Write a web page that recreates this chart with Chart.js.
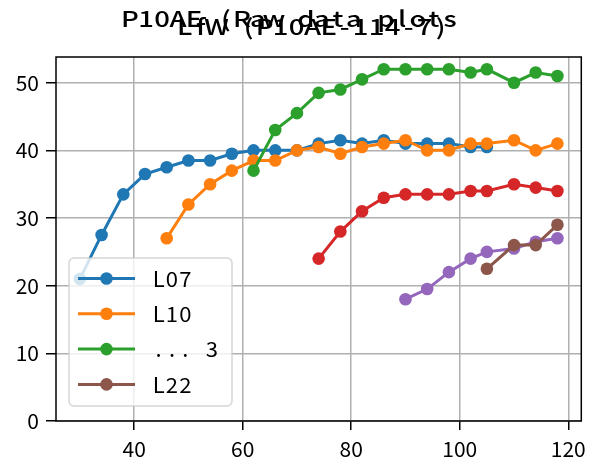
<!DOCTYPE html>
<html>
<head>
<meta charset="utf-8">
<script src="https://cdn.jsdelivr.net/npm/chart.js@4/dist/chart.umd.min.js"></script>
<style>
  body { margin: 0; background: #fff; }
  #wrap { width: 592px; height: 464px; }
</style>
</head>
<body>
<div id="wrap"><canvas id="chart" width="592" height="464"></canvas></div>
<script>
// titles
var suptitle = "P10AE (Raw data plots";
var axTitle = "LfW (P10AE-114-7)";

// tick labels
var xTickValues = [40, 60, 80, 100, 120];
var yTickValues = [0, 10, 20, 30, 40, 50];

// series (x = position, y = value)
var l07X = [30, 34, 38, 42, 46, 50, 54, 58, 62, 66, 70, 74, 78, 82, 86, 90, 94, 98, 102, 105];
var l07Y = [21, 27.5, 33.5, 36.5, 37.5, 38.5, 38.5, 39.5, 40, 40, 40, 41, 41.5, 41, 41.5, 41, 41, 41, 40.5, 40.5];
var l10X = [46, 50, 54, 58, 62, 66, 70, 74, 78, 82, 86, 90, 94, 98, 102, 105, 110, 114, 118];
var l10Y = [27, 32, 35, 37, 38.5, 38.5, 40, 40.5, 39.5, 40.5, 41, 41.5, 40, 40, 41, 41, 41.5, 40, 41];
var dot3X = [62, 66, 70, 74, 78, 82, 86, 90, 94, 98, 102, 105, 110, 114, 118];
var dot3Y = [37, 43, 45.5, 48.5, 49, 50.5, 52, 52, 52, 52, 51.5, 52, 50, 51.5, 51];
var redX = [74, 78, 82, 86, 90, 94, 98, 102, 105, 110, 114, 118];
var redY = [24, 28, 31, 33, 33.5, 33.5, 33.5, 34, 34, 35, 34.5, 34];
var purpleX = [90, 94, 98, 102, 105, 110, 114, 118];
var purpleY = [18, 19.5, 22, 24, 25, 25.5, 26.5, 27];
var l22X = [105, 110, 114, 118];
var l22Y = [22.5, 26, 26, 29];

var seriesLabels = ["L07", "L10", "... 3", "", "", "L22"];
var seriesX = [l07X, l10X, dot3X, redX, purpleX, l22X];
var seriesY = [l07Y, l10Y, dot3Y, redY, purpleY, l22Y];
var colors = ["#1f77b4", "#ff7f0e", "#2ca02c", "#d62728", "#9467bd", "#8c564b"];

function zip(xs, ys) {
  return xs.map(function (x, i) { return {x: x, y: ys[i]}; });
}

var datasets = seriesX.map(function (xs, i) {
  return {
    label: seriesLabels[i],
    data: zip(xs, seriesY[i]),
    borderColor: colors[i],
    backgroundColor: colors[i],
    pointBackgroundColor: colors[i],
    pointBorderWidth: 0,
    pointRadius: 6.3,
    borderWidth: 3,
    tension: 0,
    order: seriesX.length - i
  };
});

var FONT = "'Noto Sans CJK JP', 'Noto Sans', sans-serif";

// fixed-width text: every char in its own cell, optionally stretched
function cellText(ctx, text, x0, baseline, cell, sx) {
  for (var i = 0; i < text.length; i++) {
    var cx = x0 + cell * i + cell / 2;
    ctx.save();
    ctx.translate(cx, baseline);
    ctx.scale(sx, 1);
    ctx.fillText(text[i], 0, 0);
    ctx.restore();
  }
}

// frame, titles and in-axes legend
var decor = {
  id: "decor",
  afterDatasetsDraw: function (chart) {
    var ctx = chart.ctx, a = chart.chartArea;
    ctx.save();
    ctx.strokeStyle = "#000";
    ctx.lineWidth = 1.5;
    ctx.strokeRect(a.left, a.top, a.right - a.left, a.bottom - a.top);
    ctx.restore();
  },
  afterDraw: function (chart) {
    var ctx = chart.ctx, a = chart.chartArea;
    ctx.save();
    // titles (overlapping, as in the source)
    ctx.fillStyle = "#000";
    ctx.font = "500 22px " + FONT;
    ctx.textAlign = "center";
    ctx.textBaseline = "alphabetic";
    var cw = 16;
    cellText(ctx, suptitle, chart.width / 2 - suptitle.length * cw / 2 - 6, 27, cw, 1.25);
    cellText(ctx, axTitle, (a.left + a.right) / 2 - axTitle.length * cw / 2 - 6, 34.5, cw, 1.25);

    // legend
    var items = chart.data.datasets.filter(function (d) { return d.label; });
    var bx = a.left + 13, by = 258, bw = 163, bh = 148;
    ctx.beginPath();
    ctx.roundRect(bx, by, bw, bh, 5);
    ctx.fillStyle = "rgba(255,255,255,0.8)";
    ctx.fill();
    ctx.strokeStyle = "rgba(204,204,204,0.8)";
    ctx.lineWidth = 1.5;
    ctx.stroke();
    ctx.font = "21px " + FONT;
    items.forEach(function (d, i) {
      var y = by + 20.5 + i * 35.3;
      ctx.strokeStyle = d.borderColor;
      ctx.lineWidth = 3;
      ctx.beginPath();
      ctx.moveTo(bx + 9, y);
      ctx.lineTo(bx + 66, y);
      ctx.stroke();
      ctx.fillStyle = d.borderColor;
      ctx.beginPath();
      ctx.arc(bx + 37.5, y, 6.3, 0, Math.PI * 2);
      ctx.fill();
      ctx.fillStyle = "#000";
      cellText(ctx, d.label, bx + 83, y + 8.2, 13.3, 1.05);
    });
    ctx.restore();
  }
};

var ctx = document.getElementById("chart").getContext("2d");
var chart = new Chart(ctx, {
  type: "line",
  data: { datasets: datasets },
  options: {
    responsive: false,
    animation: false,
    layout: { padding: { top: 57, right: 10, left: 0, bottom: 0 } },
    plugins: {
      legend: { display: false },
      title: { display: false },
      tooltip: { enabled: false }
    },
    scales: {
      x: {
        type: "linear",
        min: 25.6,
        max: 122.4,
        afterBuildTicks: function (axis) {
          axis.ticks = xTickValues.map(function (v) { return {value: v}; });
        },
        afterFit: function (axis) { axis.height = 43; },
        border: { display: false },
        grid: { color: "#b0b0b0", lineWidth: 1.5, tickColor: "#000", tickWidth: 1.5, tickLength: 9 },
        ticks: { color: "#000", font: { family: FONT, size: 21 }, padding: 6, maxRotation: 0 }
      },
      y: {
        type: "linear",
        min: 0,
        max: 53.8,
        afterBuildTicks: function (axis) {
          axis.ticks = yTickValues.map(function (v) { return {value: v}; });
        },
        afterFit: function (axis) { axis.width = 56; },
        border: { display: false },
        grid: { color: "#b0b0b0", lineWidth: 1.5, tickColor: "#000", tickWidth: 1.5, tickLength: 10 },
        ticks: { color: "#000", font: { family: FONT, size: 21 }, padding: 7 }
      }
    }
  },
  plugins: [decor]
});
</script>
</body>
</html>
